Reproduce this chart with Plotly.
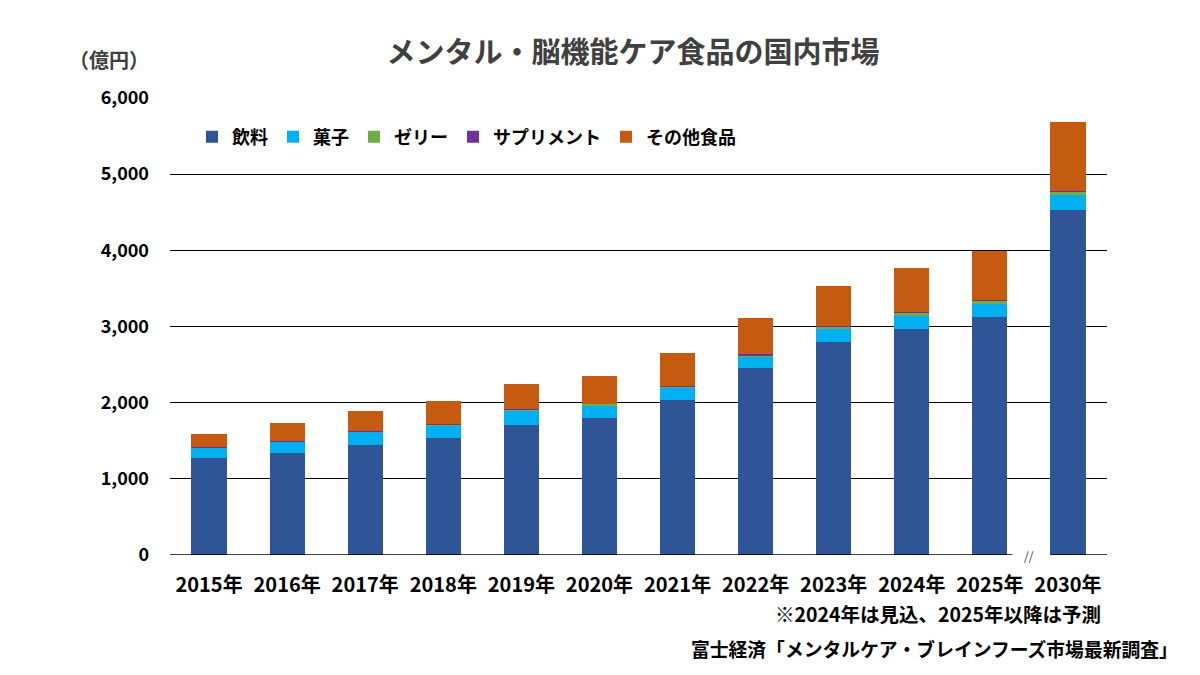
import plotly.graph_objects as go

years = ["2015年", "2016年", "2017年", "2018年", "2019年", "2020年",
         "2021年", "2022年", "2023年", "2024年", "2025年", "2030年"]
drinks = [1273, 1339, 1444, 1540, 1706, 1798, 2034, 2454, 2795, 2966, 3123, 4528]
sweets = [135, 148, 174, 166, 197, 171, 162, 149, 175, 174, 175, 196]
jelly = [5, 5, 8, 13, 13, 15, 12, 20, 25, 40, 48, 53]
supplements = [3, 3, 3, 4, 4, 4, 10, 10, 10, 5, 5, 5]
others = [172, 237, 261, 298, 324, 361, 433, 477, 525, 581, 639, 900]

series = [
    ("飲料", drinks, "#2F5597"),
    ("菓子", sweets, "#00B0F0"),
    ("ゼリー", jelly, "#70AD47"),
    ("サプリメント", supplements, "#7030A0"),
    ("その他食品", others, "#C55A11"),
]

FONT = "Noto Sans CJK JP"
OFF = 8  # page body margin offset
# plot area in screenshot pixels
PL, PR, PT, PB = 170, 1107, 98, 555
W, H = 1200, 675


def px(x):
    return (x - PL) / (PR - PL)


def py(y):
    return (PB - y) / (PB - PT)


fig = go.Figure()
for name, vals, color in series:
    fig.add_trace(go.Bar(x=years, y=vals, name=name, marker_color=color,
                         marker_line_width=0))

fig.update_layout(
    barmode="stack",
    bargap=0.55,
    width=W, height=H,
    margin=dict(l=PL - OFF, r=W - PR + OFF, t=PT - OFF, b=H - PB + OFF),
    paper_bgcolor="white", plot_bgcolor="white",
    font=dict(family=FONT, size=16, color="black", weight="bold"),
    title=dict(text="メンタル・脳機能ケア食品の国内市場", x=(633 - OFF) / W, xanchor="center",
               y=1 - (53 - OFF) / H, yanchor="middle",
               font=dict(family=FONT, size=29, color="#404040", weight="bold")),
    legend=dict(orientation="h", x=px(192), xanchor="left", y=py(137), yanchor="middle",
                font=dict(family=FONT, size=18, color="black", weight="bold"),
                traceorder="normal", itemwidth=30, bgcolor="rgba(0,0,0,0)"),
    showlegend=True,
)
fig.update_xaxes(type="category", showline=False, showgrid=False, zeroline=False,
                 ticks="", ticklabelstandoff=16,
                 tickfont=dict(family=FONT, size=20, color="black", weight="bold"),
                 range=[-0.5, 11.5])
fig.update_yaxes(range=[0, 6000], dtick=1000, tickformat=",d", showgrid=True,
                 gridcolor="black", gridwidth=1.3, zeroline=False, showline=False,
                 ticks="", ticklabelstandoff=20,
                 tickfont=dict(family=FONT, size=18, color="black", weight="bold"))

# broken baseline
fig.add_shape(type="line", xref="x", yref="y", x0=-0.5, x1=10.29, y0=0, y1=0,
              line=dict(color="black", width=1.3))
fig.add_shape(type="line", xref="x", yref="y", x0=10.78, x1=11.5, y0=0, y1=0,
              line=dict(color="black", width=1.3))
fig.add_annotation(x=10.5, y=0, xref="x", yref="y", text="//", showarrow=False,
                   font=dict(family=FONT, size=12, color="#404040", weight="normal"),
                   yanchor="middle")

fig.add_annotation(x=px(109), y=py(60), xref="paper", yref="paper", text="（億円）",
                   showarrow=False, xanchor="center", yanchor="middle",
                   font=dict(family=FONT, size=20, color="#404040", weight="bold"))
fig.add_annotation(x=px(1103), y=py(613), xref="paper", yref="paper",
                   text="※2024年は見込、2025年以降は予測", showarrow=False,
                   xanchor="right", yanchor="middle",
                   font=dict(family=FONT, size=19.5, color="black", weight="bold"))
fig.add_annotation(x=px(1180), y=py(648), xref="paper", yref="paper",
                   text="富士経済「メンタルケア・ブレインフーズ市場最新調査」", showarrow=False,
                   xanchor="right", yanchor="middle",
                   font=dict(family=FONT, size=18.8, color="black", weight="bold"))

fig.write_html("out.html")
